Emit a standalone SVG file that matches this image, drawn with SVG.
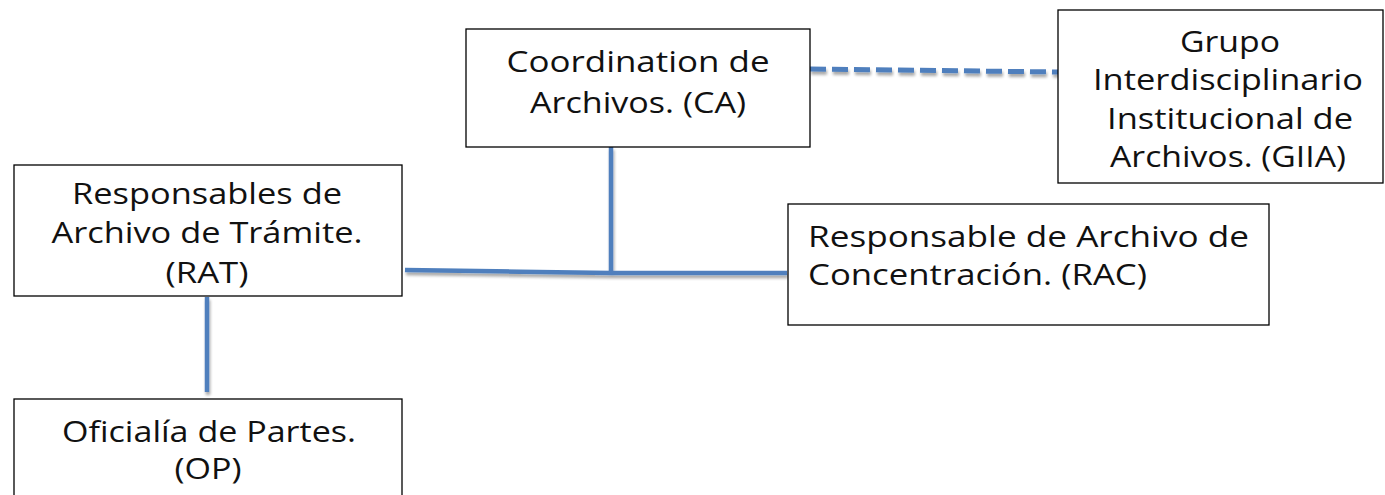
<svg xmlns="http://www.w3.org/2000/svg" width="1385" height="495" viewBox="0 0 1385 495">
<style>
.box{fill:#fff;stroke:#000;stroke-width:1.3}
.t{font-family:"Open Sans","Noto Sans","DejaVu Sans",sans-serif;font-size:30px;fill:#111}
.s{font-size:28.5px}
.c{text-anchor:middle}
.ln{stroke:#4f7fbd;stroke-width:4.5;fill:none}
.dash{stroke-width:5;stroke-dasharray:16 6}
</style>
<defs>
<filter id="sh" x="-10%" y="-50%" width="120%" height="200%">
<feGaussianBlur in="SourceAlpha" stdDeviation="1.5"/>
<feOffset dx="1" dy="3"/>
<feComponentTransfer><feFuncA type="linear" slope="0.35"/></feComponentTransfer>
<feMerge><feMergeNode/><feMergeNode in="SourceGraphic"/></feMerge>
</filter>
</defs>
<g id="connectors" filter="url(#sh)">
<path class="ln" d="M611 147 V272"/>
<path class="ln" d="M405 270 L611 273 H787"/>
<path class="ln" d="M207 297 V392"/>
<path class="ln dash" d="M810 69 L1058 72"/>
</g>
<g id="ca">
<rect class="box" x="466" y="29" width="344" height="118"/>
<text class="t c" x="638" y="72" textLength="263" lengthAdjust="spacingAndGlyphs">Coordination de</text>
<text class="t c" x="638" y="113" textLength="216" lengthAdjust="spacingAndGlyphs">Archivos. (CA)</text>
</g>
<g id="giia">
<rect class="box" x="1058" y="10" width="325" height="173"/>
<text class="t c" x="1230" y="52" textLength="100" lengthAdjust="spacingAndGlyphs">Grupo</text>
<text class="t c" x="1228" y="90" textLength="270" lengthAdjust="spacingAndGlyphs">Interdisciplinario</text>
<text class="t c" x="1230" y="129" textLength="246" lengthAdjust="spacingAndGlyphs">Institucional de</text>
<text class="t c" x="1228" y="167" textLength="236" lengthAdjust="spacingAndGlyphs">Archivos. (GIIA)</text>
</g>
<g id="rat">
<rect class="box" x="14" y="165" width="388" height="131"/>
<text class="t c" x="207" y="204" textLength="270" lengthAdjust="spacingAndGlyphs">Responsables de</text>
<text class="t c" x="207" y="243" textLength="311" lengthAdjust="spacingAndGlyphs">Archivo de Trámite.</text>
<text class="t c" x="207" y="283" textLength="83" lengthAdjust="spacingAndGlyphs">(RAT)</text>
</g>
<g id="rac">
<rect class="box" x="788" y="204" width="481" height="121"/>
<text class="t" x="808" y="247" textLength="441" lengthAdjust="spacingAndGlyphs">Responsable de Archivo de</text>
<text class="t" x="808" y="285" textLength="339" lengthAdjust="spacingAndGlyphs">Concentración. (RAC)</text>
</g>
<g id="op">
<rect class="box" x="14" y="399" width="388" height="110"/>
<text class="t s c" x="209" y="442" textLength="294" lengthAdjust="spacingAndGlyphs">Oficialía de Partes.</text>
<text class="t s c" x="208" y="479" textLength="67" lengthAdjust="spacingAndGlyphs">(OP)</text>
</g>
</svg>
